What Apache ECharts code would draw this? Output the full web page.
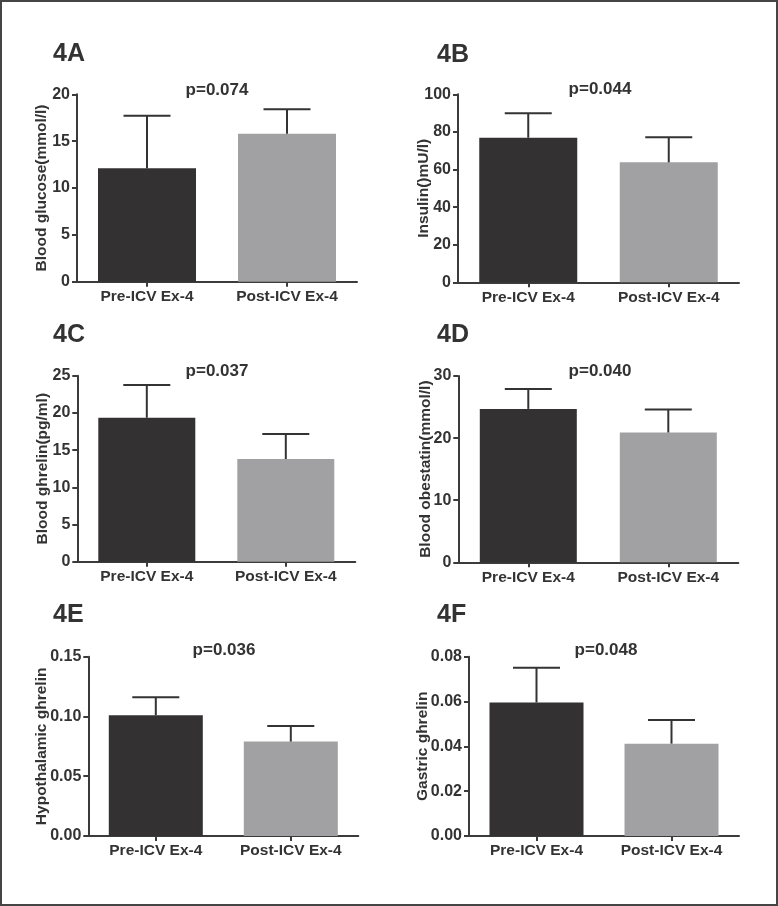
<!DOCTYPE html>
<html>
<head>
<meta charset="utf-8">
<script src="https://cdn.jsdelivr.net/npm/echarts@6/dist/echarts.min.js"></script>
<style>
html,body{margin:0;padding:0;background:#fff;}
#chart{width:778px;height:906px;}
</style>
</head>
<body>
<div id="chart"></div>
<script>
// ---- Data ----
var categories = ['Pre-ICV Ex-4', 'Post-ICV Ex-4'];
var panelTitles = ['4A', '4B', '4C', '4D', '4E', '4F'];
var pValues = ['p=0.074', 'p=0.044', 'p=0.037', 'p=0.040', 'p=0.036', 'p=0.048'];
var yNames = ['Blood glucose(mmol/l)', 'Insulin()mU/l)', 'Blood ghrelin(pg/ml)', 'Blood obestatin(mmol/l)', 'Hypothalamic ghrelin', 'Gastric ghrelin'];

var glucoseMean = [12.1, 15.8];
var glucoseErr = [5.6, 2.6];
var insulinMean = [76.9, 63.8];
var insulinErr = [13.0, 13.3];
var bloodGhrelinMean = [19.35, 13.8];
var bloodGhrelinErr = [4.4, 3.36];
var obestatinMean = [24.7, 20.9];
var obestatinErr = [3.2, 3.7];
var hypoGhrelinMean = [0.101, 0.079];
var hypoGhrelinErr = [0.015, 0.013];
var gastricGhrelinMean = [0.0596, 0.0412];
var gastricGhrelinErr = [0.0155, 0.0106];

var yMax = [20, 100, 25, 30, 0.15, 0.08];
var yInterval = [5, 20, 5, 10, 0.05, 0.02];
var yDecimals = [0, 0, 0, 0, 2, 2];

var means = [glucoseMean, insulinMean, bloodGhrelinMean, obestatinMean, hypoGhrelinMean, gastricGhrelinMean];
var errs = [glucoseErr, insulinErr, bloodGhrelinErr, obestatinErr, hypoGhrelinErr, gastricGhrelinErr];

// ---- Layout / style ----
var barColors = ['#333132', '#a1a1a3'];
var axisColor = '#3b3b3b';
var textColor = '#333333';
var FONT = '"Liberation Sans", Arial, Helvetica, sans-serif';

var grids = [
  {left: 77, top: 94.3, width: 280, height: 187.4},
  {left: 458, top: 94.3, width: 281, height: 188},
  {left: 77.3, top: 375.7, width: 278, height: 186},
  {left: 458.3, top: 376, width: 280, height: 186.3},
  {left: 88.3, top: 656.7, width: 270, height: 179.3},
  {left: 469, top: 656.7, width: 270, height: 179.3}
];
var nameGaps = [27, 26, 27, 25, 39, 38];
var barWidths = [98, 98, 97, 97, 94, 94];
var titlePos = [[53, 54], [437, 55], [53, 335], [437, 335], [53, 615], [437, 615]];
var pPos = [[217, 90], [600, 89], [217, 371], [600, 371], [224, 650], [606, 650]];

var xAxes = [], yAxes = [], series = [], graphics = [];

for (var i = 0; i < 6; i++) {
  xAxes.push({
    type: 'category', gridIndex: i, data: categories,
    axisLine: {show: true, lineStyle: {color: axisColor, width: 2}},
    axisTick: {show: true, alignWithLabel: true, length: 5, lineStyle: {color: axisColor, width: 2}},
    axisLabel: {color: textColor, fontFamily: FONT, fontWeight: 'bold', fontSize: 15.5, margin: 7}
  });
  (function (d) {
    yAxes.push({
      type: 'value', gridIndex: i, min: 0, max: yMax[i], interval: yInterval[i],
      name: yNames[i], nameLocation: 'middle', nameGap: nameGaps[i], nameRotate: 90,
      nameMoveOverlap: false,
      nameTextStyle: {color: textColor, fontFamily: FONT, fontWeight: 'bold', fontSize: 15.5},
      axisLine: {show: true, lineStyle: {color: axisColor, width: 2}},
      axisTick: {show: true, length: 5, lineStyle: {color: axisColor, width: 2}},
      splitLine: {show: false},
      axisLabel: {color: textColor, fontFamily: FONT, fontWeight: 'bold', fontSize: 16, margin: 7,
        formatter: function (v) { return v.toFixed(d); }}
    });
  })(yDecimals[i]);

  series.push({
    type: 'bar', xAxisIndex: i, yAxisIndex: i, data: means[i], barWidth: barWidths[i],
    itemStyle: {color: function (p) { return barColors[p.dataIndex]; }},
    silent: true, z: 2
  });

  var errData = means[i].map(function (m, k) { return [k, m, m + errs[i][k]]; });
  series.push({
    type: 'custom', xAxisIndex: i, yAxisIndex: i, data: errData, z: 3, silent: true,
    renderItem: function (params, api) {
      var x = api.value(0);
      var low = api.coord([x, api.value(1)]);
      var high = api.coord([x, api.value(2)]);
      var half = 23.5;
      var style = {stroke: '#333333', lineWidth: 2};
      return {
        type: 'group',
        children: [
          {type: 'line', shape: {x1: low[0], y1: low[1], x2: high[0], y2: high[1]}, style: style},
          {type: 'line', shape: {x1: high[0] - half, y1: high[1], x2: high[0] + half, y2: high[1]}, style: style}
        ]
      };
    }
  });

  graphics.push({
    type: 'text',
    style: {text: panelTitles[i], x: titlePos[i][0], y: titlePos[i][1], textAlign: 'left', textVerticalAlign: 'middle',
      font: 'bold 25px ' + FONT, fill: textColor}
  });
  graphics.push({
    type: 'text',
    style: {text: pValues[i], x: pPos[i][0], y: pPos[i][1], textAlign: 'center', textVerticalAlign: 'middle',
      font: 'bold 17px ' + FONT, fill: textColor}
  });
}

graphics.push({
  type: 'rect', shape: {x: 1, y: 1, width: 776, height: 904},
  style: {fill: 'none', stroke: '#454545', lineWidth: 2}, silent: true
});

var chart = echarts.init(document.getElementById('chart'), null, {renderer: 'canvas'});
chart.setOption({
  animation: false,
  backgroundColor: '#ffffff',
  grid: grids.map(function (g) { return Object.assign({containLabel: false}, g); }),
  xAxis: xAxes,
  yAxis: yAxes,
  series: series,
  graphic: graphics
});
</script>
</body>
</html>
